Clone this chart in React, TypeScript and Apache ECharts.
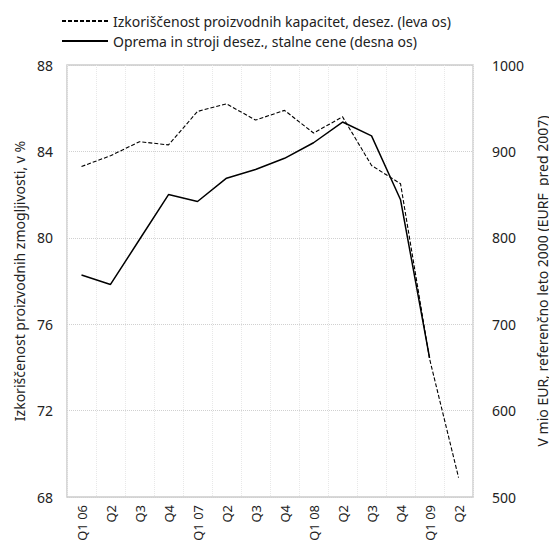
import React, { useEffect, useRef } from "react";
import * as echarts from "echarts";

const categories = ["Q1 06", "Q2", "Q3", "Q4", "Q1 07", "Q2", "Q3", "Q4", "Q1 08", "Q2", "Q3", "Q4", "Q1 09", "Q2"];
const capacityUtil = [83.3, 83.8, 84.45, 84.3, 85.85, 86.2, 85.45, 85.9, 84.85, 85.6, 83.35, 82.5, 74.4, 68.9];
const equipment: (number | null)[] = [757, 746, 798, 850, 842, 869, 879, 892, 910, 934, 918, 844, 661, null];
const leftTicks = { min: 68, max: 88, interval: 4 };
const rightTicks = { min: 500, max: 1000, interval: 100 };

const seriesNames = [
  "Izkoriščenost proizvodnih kapacitet, desez. (leva os)",
  "Oprema in stroji desez., stalne cene (desna os)",
];
const leftAxisName = "Izkoriščenost proizvodnih zmogljivosti, v %";
const rightAxisName = "V mio EUR, referenčno leto 2000 (EURF  pred 2007)";

const FONT = "Noto Sans";

export default function App() {
  const ref = useRef<HTMLDivElement>(null);
  useEffect(() => {
    if (!ref.current) return;
    const chart = echarts.init(ref.current, undefined, { renderer: "svg" });
    const labelStyle = { color: "#222", fontSize: 13, fontFamily: FONT };
    const tickStyle = { color: "#222", fontSize: 14, fontFamily: FONT };
    chart.setOption({
      animation: false,
      backgroundColor: "#fff",
      textStyle: { fontFamily: FONT },
      legend: {
        orient: "vertical",
        left: 56,
        top: 9,
        itemWidth: 46,
        itemHeight: 10,
        itemGap: 6,
        itemStyle: { opacity: 0 },
        textStyle: { color: "#222", fontSize: 14, fontFamily: FONT },
        data: seriesNames,
      },
      grid: {
        left: 67,
        right: 78,
        top: 65,
        bottom: 52,
        show: true,
        borderColor: "#cccccc",
        borderWidth: 1.5,
      },
      xAxis: {
        type: "category",
        data: categories,
        boundaryGap: true,
        axisLine: { show: false },
        axisTick: { show: false },
        axisLabel: { ...labelStyle, rotate: 90, margin: 8, interval: 0 },
        splitLine: {
          show: true,
          interval: 0,
          lineStyle: { color: "#e8e8e8", type: "dotted", width: 1 },
        },
      },
      yAxis: [
        {
          type: "value",
          ...leftTicks,
          position: "left",
          name: leftAxisName,
          nameLocation: "middle",
          nameGap: 40,
          nameTextStyle: { ...labelStyle, fontSize: 14 },
          axisLine: { show: false },
          axisTick: { show: false },
          axisLabel: { ...tickStyle, margin: 14 },
          splitLine: { show: true, lineStyle: { color: "#d0d0d0", type: "dotted", width: 1 } },
        },
        {
          type: "value",
          ...rightTicks,
          position: "right",
          name: rightAxisName,
          nameLocation: "middle",
          nameGap: 60,
          nameRotate: 90,
          nameTextStyle: { ...labelStyle, fontSize: 14 },
          axisLine: { show: false },
          axisTick: { show: false },
          axisLabel: { ...tickStyle, margin: 19, formatter: (v: number) => String(v) },
          splitLine: { show: false },
        },
      ],
      series: [
        {
          name: seriesNames[0],
          type: "line",
          yAxisIndex: 0,
          data: capacityUtil,
          symbol: "none",
          lineStyle: { color: "#000", width: 1.1, type: [4, 2] },
          itemStyle: { color: "#000" },
        },
        {
          name: seriesNames[1],
          type: "line",
          yAxisIndex: 1,
          data: equipment,
          symbol: "none",
          lineStyle: { color: "#000", width: 1.5, type: "solid" },
          itemStyle: { color: "#000" },
        },
      ],
    });
    return () => chart.dispose();
  }, []);
  return <div ref={ref} style={{ width: 557, height: 549, margin: -8 }} />;
}
